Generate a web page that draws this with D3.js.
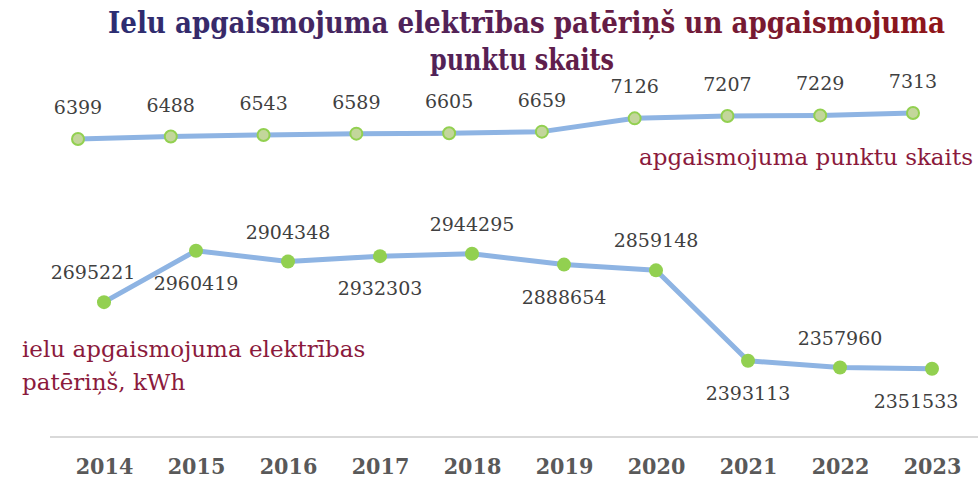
<!DOCTYPE html>
<html>
  <head>
    <meta charset="utf-8">
    <script src="https://d3js.org/d3.v7.min.js"></script>
    <style>
      body { margin: 0; background: #fff; }
      svg { display: block; }
    </style>
  </head>
  <body>
    <div id="chart"></div>
  </body>
  <script>
    // Data
    var years = ["2014", "2015", "2016", "2017", "2018", "2019", "2020", "2021", "2022", "2023"];
    var points = [6399, 6488, 6543, 6589, 6605, 6659, 7126, 7207, 7229, 7313];
    var energy = [2695221, 2960419, 2904348, 2932303, 2944295, 2888654, 2859148, 2393113, 2357960, 2351533];
    var titleLines = ["Ielu apgaismojuma elektrības patēriņš un apgaismojuma", "punktu skaits"];
    var pointsName = "apgaismojuma punktu skaits";
    var energyName = ["ielu apgaismojuma elektrības", "patēriņš, kWh"];

    var width = 978, height = 480;
    var serif = "'DejaVu Serif', 'Liberation Serif', serif";
    var serifCond = "'DejaVu Serif Condensed', 'DejaVu Serif', serif";

    var svg = d3.select("#chart")
                .append("svg")
                  .attr("width", width)
                  .attr("height", height);

    // Title with a blue -> red gradient
    var grad = svg.append("defs").append("linearGradient")
                  .attr("id", "titleGrad")
                  .attr("gradientUnits", "userSpaceOnUse")
                  .attr("x1", 108).attr("x2", 945)
                  .attr("y1", 0).attr("y2", 0);
    grad.append("stop").attr("offset", "0%").attr("stop-color", "#2b2d72");
    grad.append("stop").attr("offset", "50%").attr("stop-color", "#5b1f50");
    grad.append("stop").attr("offset", "100%").attr("stop-color", "#8f1518");

    svg.append("text")
       .attr("x", 108).attr("y", 33)
       .attr("textLength", 837)
       .attr("lengthAdjust", "spacingAndGlyphs")
       .style("font-family", serifCond)
       .style("font-weight", "bold")
       .style("font-size", "30px")
       .style("fill", "url(#titleGrad)")
       .text(titleLines[0]);

    svg.append("text")
       .attr("x", 430).attr("y", 70)
       .attr("textLength", 184)
       .attr("lengthAdjust", "spacingAndGlyphs")
       .style("font-family", serifCond)
       .style("font-weight", "bold")
       .style("font-size", "30px")
       .style("fill", "url(#titleGrad)")
       .text(titleLines[1]);

    // Scales: primary (energy) and secondary (points) axes, like the original combo chart
    var x = d3.scalePoint().domain(years).range([104, 932]);
    var x2 = d3.scalePoint().domain(years).range([78, 913]);
    var y = d3.scaleLinear().domain([2000000, 3000000]).range([437, 243]);
    var y2 = d3.scaleLinear().domain([6000, 7500]).range([150.4, 107.7]);

    // Category axis
    var xAxis = svg.append("g")
                   .attr("transform", "translate(0,437)")
                   .call(d3.axisBottom(x).tickSize(0).tickPadding(0));
    xAxis.select(".domain").remove();
    xAxis.append("line")
         .attr("x1", 50).attr("x2", width)
         .style("stroke", "#d9d9d9")
         .style("stroke-width", 2);
    xAxis.selectAll(".tick text")
         .attr("y", 37)
         .attr("dy", null)
         .style("font-family", serifCond)
         .style("font-weight", "bold")
         .style("font-size", "23px")
         .style("fill", "#595959");

    var line = d3.line();

    // Number of lighting points (secondary axis)
    svg.append("path")
       .datum(points)
       .attr("d", line.x(function(d, i) { return x2(years[i]); }).y(function(d) { return y2(d); }))
       .style("fill", "none")
       .style("stroke", "#8eb4e3")
       .style("stroke-width", 5)
       .style("stroke-linejoin", "round");

    svg.selectAll(".ptDot")
       .data(points)
       .enter()
       .append("circle")
       .attr("class", "ptDot")
       .attr("cx", function(d, i) { return x2(years[i]); })
       .attr("cy", function(d) { return y2(d); })
       .attr("r", 6)
       .style("fill", "#c3d69b")
       .style("stroke", "#92d050")
       .style("stroke-width", 2);

    svg.selectAll(".ptLabel")
       .data(points)
       .enter()
       .append("text")
       .attr("class", "ptLabel")
       .attr("x", function(d, i) { return x2(years[i]); })
       .attr("y", function(d) { return y2(d) - 25; })
       .style("text-anchor", "middle")
       .style("font-family", serif)
       .style("font-size", "19px")
       .style("fill", "#404040")
       .text(function(d) { return d; });

    // Energy consumption (primary axis)
    svg.append("path")
       .datum(energy)
       .attr("d", line.x(function(d, i) { return x(years[i]); }).y(function(d) { return y(d); }))
       .style("fill", "none")
       .style("stroke", "#8eb4e3")
       .style("stroke-width", 5)
       .style("stroke-linejoin", "round");

    svg.selectAll(".enDot")
       .data(energy)
       .enter()
       .append("circle")
       .attr("class", "enDot")
       .attr("cx", function(d, i) { return x(years[i]); })
       .attr("cy", function(d) { return y(d); })
       .attr("r", 7)
       .style("fill", "#92d050");

    // labels alternate above / below the line
    svg.selectAll(".enLabel")
       .data(energy)
       .enter()
       .append("text")
       .attr("class", "enLabel")
       .attr("x", function(d, i) { return x(years[i]) + (i == 0 ? -11 : i == 9 ? -16 : 0); })
       .attr("y", function(d, i) { return i % 2 == 0 ? y(d) - 23 : y(d) + 39; })
       .style("text-anchor", "middle")
       .style("font-family", serif)
       .style("font-size", "19px")
       .style("fill", "#404040")
       .text(function(d) { return d; });

    // Series names
    svg.append("text")
       .attr("x", 973).attr("y", 165)
       .style("text-anchor", "end")
       .style("font-family", serif)
       .style("font-size", "23px")
       .style("fill", "#8b1a3c")
       .text(pointsName);

    svg.selectAll(".enName")
       .data(energyName)
       .enter()
       .append("text")
       .attr("class", "enName")
       .attr("x", 22)
       .attr("y", function(d, i) { return 357 + i * 33; })
       .style("font-family", serif)
       .style("font-size", "23px")
       .style("fill", "#8b1a3c")
       .text(function(d) { return d; });
  </script>
</html>
